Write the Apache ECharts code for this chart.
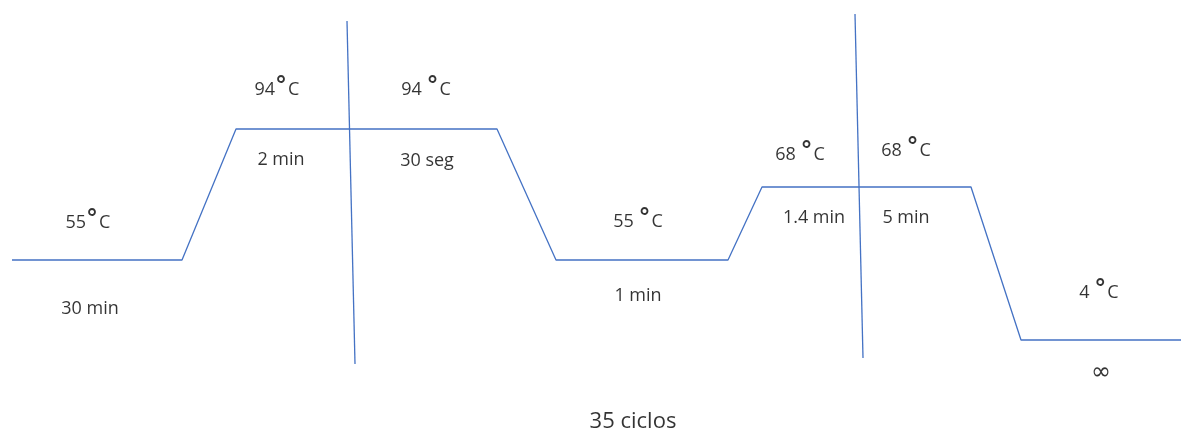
<!DOCTYPE html>
<html>
<head>
<meta charset="utf-8">
<script src="https://cdn.jsdelivr.net/npm/echarts@6/dist/echarts.min.js"></script>
<style>
html,body{margin:0;padding:0;background:#fff;}
#c{width:1181px;height:432px;}
</style>
</head>
<body>
<div id="c"></div>
<script>
// Schematic thermal profile (x = schematic time position, y = schematic level)
const profileX = [12, 182, 236, 497, 556, 728, 762, 971, 1021, 1181];
const profileY = [172, 172, 303, 303, 172, 172, 245, 245, 92, 92];

// Cycle bracket lines
const cycle1X = [347, 355];
const cycle1Y = [411, 68];
const cycle2X = [855, 863];
const cycle2Y = [418, 74];

// Temperature labels
const tempText = ['55', '94', '94 ', '55 ', '68 ', '68 ', '4 '];
const tempX = [88, 277, 426, 638, 800, 906, 1099];
const tempY = [209, 342, 342, 210, 277, 281, 139];

// Time labels
const timeText = ['30 min', '2 min', '30 seg', '1 min', '1.4 min', '5 min', '∞'];
const timeX = [90, 281, 427, 638, 814, 906, 1101];
const timeY = [123, 272, 271, 136, 214, 214, 59];

// Footer
const footerText = ['35 ciclos'];
const footerX = [633];
const footerY = [10];

const lineColor = '#4472C4';
const font = '"Open Sans", "DejaVu Sans", sans-serif';

function pts(xs, ys) { return xs.map((x, i) => [x, ys[i]]); }
function lbl(xs, ys, ts) { return xs.map((x, i) => ({value: [x, ys[i]], name: ts[i]})); }

const chart = echarts.init(document.getElementById('c'), null, {renderer: 'canvas'});
chart.setOption({
  animation: false,
  backgroundColor: '#ffffff',
  grid: {left: 0, right: 0, top: 0, bottom: 0},
  xAxis: {type: 'value', min: 0, max: 1181, show: false},
  yAxis: {type: 'value', min: 0, max: 432, show: false},
  series: [
    {type: 'line', data: pts(profileX, profileY), symbol: 'none',
     lineStyle: {color: lineColor, width: 1.3}},
    {type: 'line', data: pts(cycle1X, cycle1Y), symbol: 'none',
     lineStyle: {color: lineColor, width: 1.3}},
    {type: 'line', data: pts(cycle2X, cycle2Y), symbol: 'none',
     lineStyle: {color: lineColor, width: 1.3}},
    {type: 'scatter', data: lbl(tempX, tempY, tempText), symbolSize: 1,
     itemStyle: {color: 'rgba(0,0,0,0)'},
     label: {show: true, position: 'inside',
       formatter: p => '{n|' + p.name + '}{d|°}{n|C}',
       rich: {
         n: {fontFamily: font, fontSize: 18, color: '#000'},
         d: {fontFamily: '"DejaVu Sans", sans-serif', fontSize: 24, fontWeight: 'bold', color: '#000', padding: [0, 1, 5, 0]}
       }}},
    {type: 'scatter', data: lbl(timeX, timeY, timeText), symbolSize: 1,
     itemStyle: {color: 'rgba(0,0,0,0)'},
     label: {show: true, position: 'inside',
       formatter: p => p.name === '∞' ? '{inf|∞}' : p.name,
       fontFamily: font, fontSize: 18, color: '#000',
       rich: {inf: {fontFamily: '"DejaVu Sans", sans-serif', fontSize: 24, color: '#000'}}}},
    {type: 'scatter', data: lbl(footerX, footerY, footerText), symbolSize: 1,
     itemStyle: {color: 'rgba(0,0,0,0)'},
     label: {show: true, position: 'inside', formatter: p => p.name,
       fontFamily: font, fontSize: 22, color: '#000'}}
  ]
});
</script>
</body>
</html>
